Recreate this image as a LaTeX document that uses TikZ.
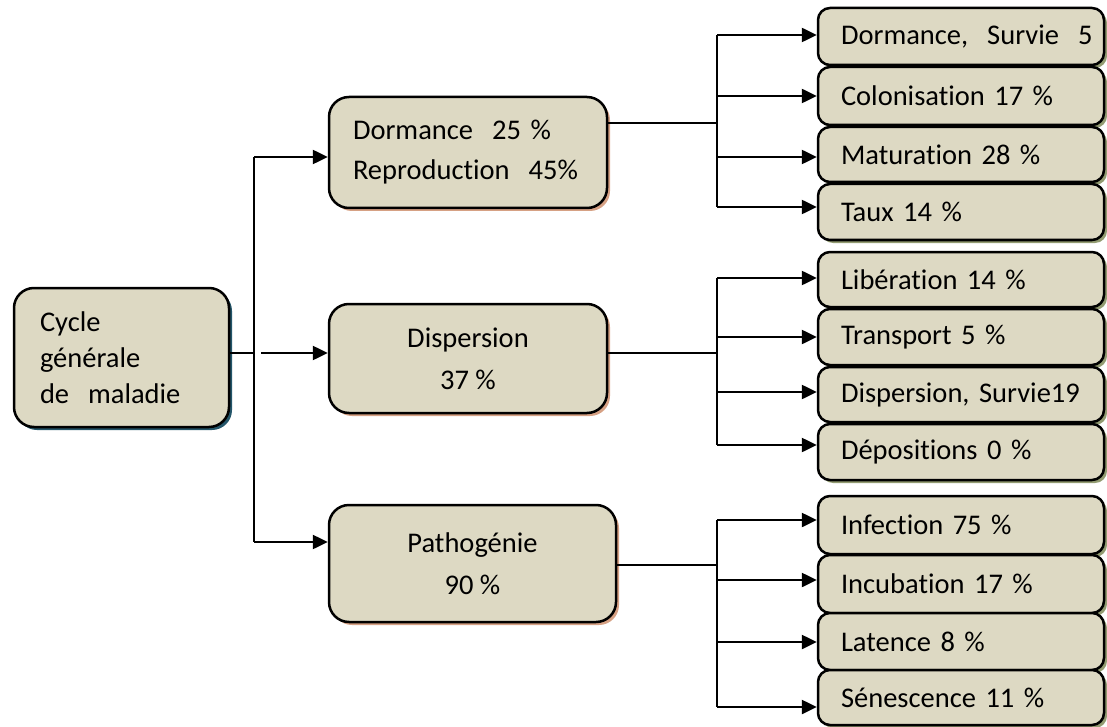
\documentclass[tikz,border=0pt]{standalone}
\usepackage{fontspec}
\setmainfont{Carlito}[Ligatures=NoCommon]
\usetikzlibrary{arrows.meta,shadows}
\definecolor{boxfill}{HTML}{DDD9C3}
\definecolor{shleft}{HTML}{24566A}
\definecolor{shmid}{HTML}{D6A184}
\definecolor{shright}{HTML}{939C72}
\tikzset{
  basebox/.style={draw=black, line width=2.5pt, fill=boxfill, rectangle,
    font=\fontsize{28.5}{36}\selectfont, inner ysep=0pt},
  rootbox/.style={basebox, rounded corners=20pt, minimum width=215pt, minimum height=139pt,
    text width=163pt, inner xsep=26pt, align=left,
    drop shadow={shadow xshift=3pt, shadow yshift=-3pt, fill=shleft, opacity=1}},
  midbox/.style={basebox, rounded corners=20pt,
    drop shadow={shadow xshift=3pt, shadow yshift=-3pt, fill=shmid, opacity=1}},
  leafbox/.style={basebox, rounded corners=12pt, minimum width=286pt,
    text width=240pt, inner xsep=23pt, align=left,
    drop shadow={shadow xshift=3pt, shadow yshift=-3pt, fill=shright, opacity=1}},
  ln/.style={line width=2.5pt, draw=black},
  arr/.style={ln, -{Triangle[length=15pt,width=14pt]}},
}
\begin{document}
\begin{tikzpicture}[x=1pt,y=-1pt]
\useasboundingbox (0,0) rectangle (1107,727);

% root
\node[rootbox] (root) at (121.5,357.5) {Cycle\\générale\\de~ maladie};

% middle boxes
\node[midbox, minimum width=278pt, minimum height=111pt, text width=230pt, inner xsep=24pt, align=left,
  font=\fontsize{28.5}{40}\selectfont] (m1) at (468,152.5) {Dormance~ 25 \%\\Reproduction~ 45\%};
\node[midbox, minimum width=278pt, minimum height=109pt, align=center,
  font=\fontsize{28.5}{42}\selectfont] (m2) at (468,358.5) {Dispersion\\37 \%};
\node[midbox, minimum width=287pt, minimum height=117pt, align=center,
  font=\fontsize{28.5}{42}\selectfont] (m3) at (472.5,563.5) {Pathogénie\\90 \%};

% leaves
\node[leafbox, minimum height=57pt] (r1) at (961,36.5) {Dormance,~ Survie~ 5};
\node[leafbox, minimum height=58pt] (r2) at (961,96) {Colonisation 17 \%};
\node[leafbox, minimum height=55pt] (r3) at (961,154.5) {Maturation 28 \%};
\node[leafbox, minimum height=56pt] (r4) at (961,212) {Taux 14 \%};

\node[leafbox, minimum height=55pt] (r5) at (961,279.5) {Libération 14 \%};
\node[leafbox, minimum height=56pt] (r6) at (961,337) {Transport 5 \%};
\node[leafbox, minimum height=55pt] (r7) at (961,394.5) {Dispersion, Survie19};
\node[leafbox, minimum height=56pt] (r8) at (961,452) {Dépositions 0 \%};

\node[leafbox, minimum height=58pt] (r9) at (961,525) {Infection 75 \%};
\node[leafbox, minimum height=58pt] (r10) at (961,584) {Incubation 17 \%};
\node[leafbox, minimum height=57pt] (r11) at (961,641.5) {Latence 8 \%};
\node[leafbox, minimum height=55pt] (r12) at (961,697.5) {Sénescence 11 \%};

% level 1 connectors
\coordinate (j0) at (254,353);
\coordinate (j0t) at (254,157);
\coordinate (j0b) at (254,542);
\coordinate (j0m) at (261,353);
\draw[ln] (root.east |- j0) -- (j0);
\draw[ln] (j0t) -- (j0b);
\draw[arr] (j0t) -- (m1.west |- j0t);
\draw[arr] (j0m) -- (m2.west |- j0m);
\draw[arr] (j0b) -- (m3.west |- j0b);

% group 1
\coordinate (j1) at (717,123);
\draw[ln] (m1.east |- j1) -- (j1);
\draw[ln] (717,35) -- (717,207);
\foreach \yy/\nn in {35/r1,96/r2,157/r3,207/r4}{
  \coordinate (t) at (717,\yy);
  \draw[arr] (t) -- (\nn.west |- t);
}

% group 2
\coordinate (j2) at (717,353);
\draw[ln] (m2.east |- j2) -- (j2);
\draw[ln] (717,278) -- (717,445);
\foreach \yy/\nn in {278/r5,337/r6,392/r7,445/r8}{
  \coordinate (t) at (717,\yy);
  \draw[arr] (t) -- (\nn.west |- t);
}

% group 3
\coordinate (j3) at (717,565);
\draw[ln] (m3.east |- j3) -- (j3);
\draw[ln] (717,520) -- (717,707);
\foreach \yy/\nn in {520/r9,580/r10,642/r11,707/r12}{
  \coordinate (t) at (717,\yy);
  \draw[arr] (t) -- (\nn.west |- t);
}
\end{tikzpicture}
\end{document}
